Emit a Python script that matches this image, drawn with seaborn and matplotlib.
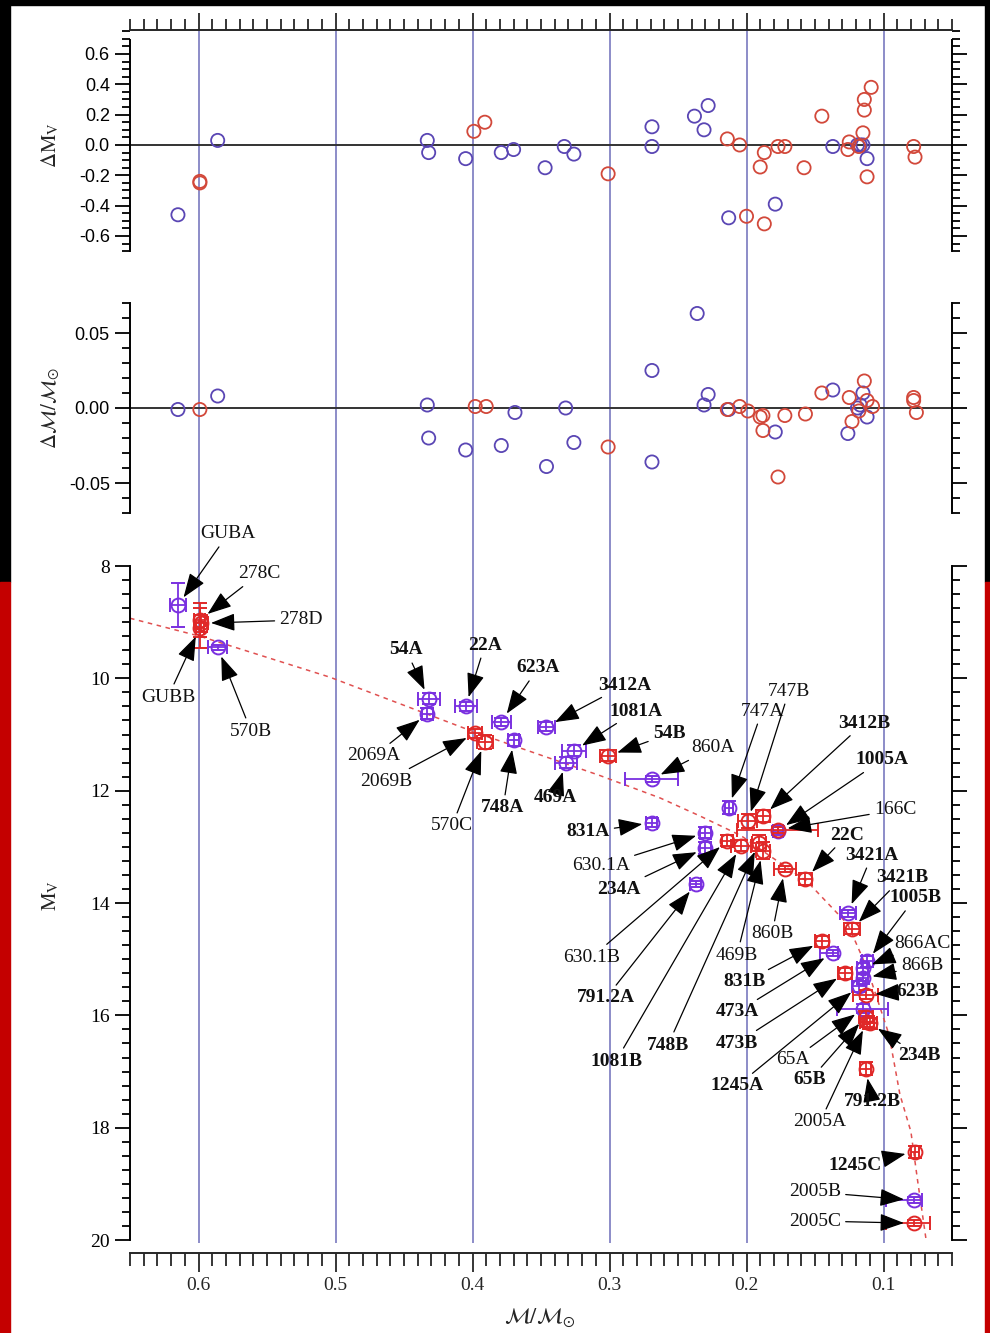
import numpy as np
import pandas as pd
import matplotlib
matplotlib.use("Agg")
import matplotlib.pyplot as plt
import seaborn as sns
from matplotlib.patches import Rectangle
from matplotlib.ticker import MultipleLocator

# ---------------- data ----------------
# top panel: Delta M_V residuals
dmv_blue_mass = [0.615, 0.586, 0.433, 0.432, 0.405, 0.379, 0.370, 0.347, 0.333, 0.326,
                 0.269, 0.269, 0.238, 0.228, 0.231, 0.213, 0.179, 0.137, 0.119, 0.117,
                 0.115, 0.112]
dmv_blue = [-0.46, 0.03, 0.03, -0.05, -0.09, -0.05, -0.03, -0.15, -0.01, -0.06,
            0.12, -0.01, 0.19, 0.26, 0.10, -0.48, -0.39, -0.01, 0.00, 0.00,
            0.00, -0.09]
dmv_red_mass = [0.599, 0.599, 0.399, 0.391, 0.301, 0.214, 0.205, 0.200, 0.190, 0.187,
                0.187, 0.177, 0.172, 0.158, 0.145, 0.125, 0.126, 0.118, 0.115, 0.114,
                0.114, 0.109, 0.112, 0.078, 0.077]
dmv_red = [-0.25, -0.24, 0.09, 0.15, -0.19, 0.04, 0.00, -0.47, -0.145, -0.05,
           -0.52, -0.01, -0.01, -0.15, 0.19, 0.02, -0.03, -0.01, 0.08, 0.23,
           0.30, 0.38, -0.21, -0.01, -0.08]

# middle panel: Delta mass residuals
dm_blue_mass = [0.615, 0.586, 0.433, 0.432, 0.405, 0.379, 0.369, 0.346, 0.332, 0.326,
                0.269, 0.269, 0.236, 0.228, 0.231, 0.213, 0.179, 0.137, 0.126, 0.119,
                0.117, 0.115, 0.112]
dm_blue = [-0.001, 0.008, 0.002, -0.020, -0.028, -0.025, -0.003, -0.039, 0.000, -0.023,
           0.025, -0.036, 0.063, 0.009, 0.002, -0.001, -0.016, 0.012, -0.017, 0.000,
           0.002, 0.010, -0.006]
dm_red_mass = [0.599, 0.398, 0.390, 0.301, 0.214, 0.205, 0.199, 0.190, 0.188, 0.188,
               0.177, 0.172, 0.157, 0.145, 0.125, 0.123, 0.118, 0.114, 0.112, 0.108,
               0.078, 0.078, 0.076]
dm_red = [-0.001, 0.001, 0.001, -0.026, -0.001, 0.001, -0.002, -0.006, -0.005, -0.015,
          -0.046, -0.005, -0.004, 0.010, 0.007, -0.009, -0.002, 0.018, 0.005, 0.001,
          0.007, 0.005, -0.003]

# bottom panel: mass - M_V relation
star_names = ['GUBA', '278C', '278D', 'GUBB', '570B', '54A', '2069A', '22A', '623A', '2069B',
              '570C', '748A', '3412A', '1081A', '469A', '54B', '860A', '831A', '747A', '747B',
              '3412B', '1005A', '166C', '630.1A', '234A', '630.1B', '791.2A', '1081B', '748B', '469B',
              '860B', '22C', '3421A', '3421B', '831B', '473A', '1005B', '866AC', '473B', '866B',
              '1245A', '623B', '65A', '65B', '2005A', '234B', '791.2B', '1245C', '2005B', '2005C']
star_mass = [0.615, 0.599, 0.598, 0.599, 0.586, 0.432, 0.433, 0.405, 0.379, 0.398,
             0.391, 0.370, 0.346, 0.326, 0.332, 0.301, 0.269, 0.269, 0.213, 0.199,
             0.188, 0.177, 0.177, 0.230, 0.230, 0.214, 0.237, 0.204, 0.191, 0.188,
             0.172, 0.157, 0.126, 0.123, 0.145, 0.137, 0.112, 0.115, 0.128, 0.115,
             0.118, 0.113, 0.115, 0.113, 0.112, 0.110, 0.113, 0.077, 0.078, 0.078]
star_mv = [8.70, 8.96, 9.02, 9.10, 9.45, 10.36, 10.63, 10.50, 10.77, 10.98,
           11.13, 11.10, 10.86, 11.29, 11.50, 11.38, 11.79, 12.57, 12.30, 12.54,
           12.45, 12.71, 12.70, 12.75, 13.02, 12.89, 13.66, 12.98, 12.93, 13.07,
           13.39, 13.57, 14.18, 14.46, 14.68, 14.89, 15.04, 15.16, 15.25, 15.34,
           15.48, 15.63, 15.88, 16.02, 16.11, 16.14, 16.95, 18.43, 19.29, 19.70]
star_group = ['A', 'B', 'B', 'B', 'A', 'A', 'A', 'A', 'A', 'B',
              'B', 'A', 'A', 'A', 'A', 'B', 'A', 'A', 'A', 'B',
              'B', 'A', 'B', 'A', 'A', 'B', 'A', 'B', 'B', 'B',
              'B', 'B', 'A', 'B', 'B', 'A', 'A', 'A', 'B', 'A',
              'A', 'B', 'A', 'B', 'B', 'B', 'B', 'B', 'A', 'B']
star_xerr_lo = [0.006, 0.004, 0.005, 0.003, 0.007, 0.008, 0.004, 0.008, 0.007, 0.005,
                0.006, 0.004, 0.006, 0.009, 0.008, 0.006, 0.019, 0.004, 0.003, 0.007,
                0.005, 0.004, 0.029, 0.004, 0.004, 0.004, 0.004, 0.007, 0.005, 0.005,
                0.008, 0.005, 0.006, 0.006, 0.005, 0.004, 0.004, 0.004, 0.005, 0.004,
                0.005, 0.009, 0.018, 0.005, 0.005, 0.005, 0.004, 0.003, 0.006, 0.012]
star_xerr_hi = [0.006, 0.004, 0.005, 0.003, 0.007, 0.008, 0.004, 0.008, 0.007, 0.005,
                0.006, 0.004, 0.006, 0.009, 0.008, 0.006, 0.020, 0.004, 0.003, 0.007,
                0.005, 0.004, 0.030, 0.004, 0.004, 0.004, 0.004, 0.007, 0.005, 0.005,
                0.008, 0.005, 0.006, 0.006, 0.005, 0.009, 0.004, 0.004, 0.005, 0.004,
                0.005, 0.009, 0.019, 0.005, 0.005, 0.005, 0.004, 0.003, 0.020, 0.020]
star_yerr = [0.39, 0.30, 0.15, 0.36, 0.05, 0.10, 0.10, 0.08, 0.07, 0.08,
             0.12, 0.10, 0.08, 0.10, 0.10, 0.10, 0.05, 0.08, 0.12, 0.12,
             0.10, 0.08, 0.05, 0.10, 0.10, 0.10, 0.06, 0.10, 0.15, 0.15,
             0.05, 0.10, 0.06, 0.10, 0.10, 0.05, 0.10, 0.10, 0.10, 0.10,
             0.10, 0.08, 0.08, 0.10, 0.10, 0.10, 0.12, 0.10, 0.05, 0.05]
bold_names = {'54A', '22A', '623A', '3412A', '1081A', '54B', '3412B', '1005A', '22C', '3421A',
              '3421B', '1005B', '623B', '234B', '791.2B', '1245C', '748A', '469A', '831A',
              '234A', '791.2A', '748B', '1081B', '831B', '473A', '473B', '1245A', '65B'}

curve_mass = [0.650, 0.599, 0.504, 0.396, 0.307, 0.263, 0.234, 0.204, 0.183, 0.156,
              0.126, 0.112, 0.096, 0.088, 0.080, 0.075, 0.069]
curve_mv = [8.93, 9.25, 9.98, 10.98, 11.73, 12.13, 12.45, 12.80, 13.16, 13.61,
            14.38, 15.16, 16.34, 17.41, 18.07, 18.96, 19.98]

grid_mass = [0.6, 0.5, 0.4, 0.3, 0.2, 0.1]
x_tick_labels = ['0.6', '0.5', '0.4', '0.3', '0.2', '0.1']

# ---------------- layout / style ----------------
# label text centres in image pixels (x from left, y from top)
label_px = [(228, 534), (259, 574), (301, 620), (168, 697), (251, 731), (406, 650), (374, 756),
            (485, 645), (538, 668), (386, 781), (452, 826), (503, 808), (625, 685), (636, 711),
            (555, 797), (669, 734), (713, 748), (588, 832), (762, 711), (789, 691), (864, 723),
            (882, 760), (895, 810), (601, 866), (619, 889), (592, 957), (606, 998), (616, 1061),
            (668, 1045), (737, 955), (772, 934), (847, 835), (872, 855), (902, 878), (745, 982),
            (737, 1012), (915, 898), (922, 943), (737, 1043), (922, 966), (737, 1086), (918, 991),
            (793, 1060), (810, 1080), (820, 1122), (919, 1056), (872, 1102), (855, 1165),
            (815, 1192), (815, 1221)]

W, H = 990, 1333
sns.set_theme(style="ticks")
plt.rcParams['font.family'] = ['Liberation Serif', 'DejaVu Serif']
plt.rcParams['mathtext.fontset'] = 'stix'
plt.rcParams['axes.linewidth'] = 1.4

BLUE_TOP, RED_TOP = '#5a46b4', '#d2483a'
BLUE, RED = '#7a30e0', '#e02828'
GRID = '#8484c4'

fig = plt.figure(figsize=(W / 100, H / 100), dpi=100)
fig.patch.set_facecolor('white')


def rect(x0, y0, x1, y1):
    return [x0 / W, 1 - y1 / H, (x1 - x0) / W, (y1 - y0) / H]


# frame of the screenshot
for (x0, y0, x1, y1, c) in [(0, 0, W, 5, 'black'), (0, 0, 10, 582, 'black'), (985, 0, W, 582, 'black'),
                            (0, 582, 10, H, '#c40000'), (985, 582, W, H, '#c40000')]:
    fig.patches.append(Rectangle((x0 / W, 1 - y1 / H), (x1 - x0) / W, (y1 - y0) / H,
                                 transform=fig.transFigure, color=c, zorder=-5))

ax_bg = fig.add_axes(rect(130, 30, 952, 1243), zorder=0)
ax_top = fig.add_axes(rect(130, 30, 952, 252), zorder=1)
ax_mid = fig.add_axes(rect(130, 303, 952, 513), zorder=1)
ax_bot = fig.add_axes(rect(130, 566, 952, 1253), zorder=1)

XLIM = (0.65, 0.05)
for ax in (ax_bg, ax_top, ax_mid, ax_bot):
    ax.set_xlim(*XLIM)
    ax.set_facecolor('none')

# vertical guide lines through all panels
ax_bg.set_ylim(0, 1)
ax_bg.axis('off')
for gm in grid_mass:
    ax_bg.axvline(gm, color=GRID, lw=1.3, zorder=0)

# ---- top panel
ax_top.set_ylim(-0.7055, 0.758)
ax_top.axhline(0, color='#333333', lw=1.4, zorder=1)
top_df = pd.DataFrame({'mass': dmv_blue_mass + dmv_red_mass,
                       'val': dmv_blue + dmv_red,
                       'grp': ['A'] * len(dmv_blue) + ['B'] * len(dmv_red)})
sns.scatterplot(data=top_df, x='mass', y='val', hue='grp', palette={'A': BLUE_TOP, 'B': RED_TOP},
                s=90, linewidth=1.3, legend=False, ax=ax_top, zorder=3)

mid_df = pd.DataFrame({'mass': dm_blue_mass + dm_red_mass,
                       'val': dm_blue + dm_red,
                       'grp': ['A'] * len(dm_blue) + ['B'] * len(dm_red)})
ax_mid.set_ylim(-0.07, 0.07)
ax_mid.axhline(0, color='#333333', lw=1.4, zorder=1)
sns.scatterplot(data=mid_df, x='mass', y='val', hue='grp', palette={'A': BLUE_TOP, 'B': RED_TOP},
                s=90, linewidth=1.3, legend=False, ax=ax_mid, zorder=3)

for ax in (ax_top, ax_mid):
    for coll in ax.collections:
        fc = coll.get_facecolors()
        coll.set_edgecolors(fc)
        coll.set_facecolor('none')

# ---- bottom panel
ax_bot.set_ylim(20.23, 8)
sns.lineplot(x=curve_mass, y=curve_mv, sort=False, color='#e05050', lw=1.1,
             linestyle=(0, (3, 3)), ax=ax_bot, zorder=2)

sm = np.array(star_mass)
sv = np.array(star_mv)
lo = np.array(star_xerr_lo)
hi = np.array(star_xerr_hi)
ye = np.array(star_yerr)
grp = np.array(star_group)
for g, col in (('A', BLUE), ('B', RED)):
    k = grp == g
    ax_bot.errorbar(sm[k], sv[k], xerr=[lo[k], hi[k]], yerr=ye[k], fmt='o', ms=10,
                    mfc='none', mec=col, mew=1.4, ecolor=col, elinewidth=1.3,
                    capsize=5, capthick=1.3, zorder=4)

arrow_style = dict(arrowstyle='-|>,head_length=1.5,head_width=0.55', color='black',
                   lw=0.9, shrinkA=1, shrinkB=7, mutation_scale=10)
for name, m, v, (px, py) in zip(star_names, star_mass, star_mv, label_px):
    ax_bot.annotate(name, xy=(m, v), xycoords='data', xytext=(px, H - py),
                    textcoords='figure pixels', ha='center', va='center', fontsize=14,
                    fontweight='bold' if name in bold_names else 'normal',
                    color='#111111', arrowprops=arrow_style, annotation_clip=False,
                    zorder=6)

# ---- axes / ticks styling
for ax in (ax_top, ax_mid, ax_bot):
    ax.spines['right'].set_visible(True)
    ax.spines['left'].set_color('black')
    ax.spines['right'].set_color('black')
    ax.tick_params(axis='y', which='both', left=True, right=True, labelright=False,
                   direction='out', width=1.3, colors='black')
    ax.tick_params(axis='y', which='major', length=11)
    ax.tick_params(axis='y', which='minor', length=6)

ax_top.spines['bottom'].set_visible(False)
ax_top.spines['top'].set_visible(True)
ax_top.spines['left'].set_bounds(-0.70, 0.69)
ax_top.spines['right'].set_bounds(-0.70, 0.69)
ax_top.yaxis.set_major_locator(MultipleLocator(0.2))
ax_top.yaxis.set_minor_locator(MultipleLocator(0.05))
ax_top.set_yticks([-0.6, -0.4, -0.2, 0.0, 0.2, 0.4, 0.6])
ax_top.set_yticklabels(['-0.6', '-0.4', '-0.2', '0.0', '0.2', '0.4', '0.6'])
ax_top.xaxis.set_major_locator(MultipleLocator(0.1))
ax_top.xaxis.set_minor_locator(MultipleLocator(0.01))
ax_top.tick_params(axis='x', which='both', top=True, bottom=False, labeltop=False,
                   labelbottom=False, direction='out', width=1.3)
ax_top.tick_params(axis='x', which='major', length=12)
ax_top.tick_params(axis='x', which='minor', length=8)

ax_mid.spines['bottom'].set_visible(False)
ax_mid.spines['top'].set_visible(False)
ax_mid.spines['left'].set_bounds(-0.07, 0.07)
ax_mid.spines['right'].set_bounds(-0.07, 0.07)
ax_mid.set_yticks([-0.05, 0.0, 0.05])
ax_mid.set_yticklabels(['-0.05', '0.00', '0.05'])
ax_mid.yaxis.set_minor_locator(MultipleLocator(0.01))
ax_mid.tick_params(axis='x', which='both', bottom=False, top=False, labelbottom=False)

for ax in (ax_top, ax_mid):
    for t in ax.get_yticklabels():
        t.set_family(['Liberation Sans', 'DejaVu Sans'])
        t.set_fontsize(13)

ax_bot.spines['top'].set_visible(False)
ax_bot.spines['left'].set_bounds(8, 20)
ax_bot.spines['right'].set_bounds(8, 20)
ax_bot.set_yticks([8, 10, 12, 14, 16, 18, 20])
ax_bot.set_yticklabels(['8', '10', '12', '14', '16', '18', '20'], fontsize=14)
ax_bot.yaxis.set_minor_locator(MultipleLocator(0.25))
ax_bot.set_xticks(grid_mass)
ax_bot.set_xticklabels(x_tick_labels, fontsize=14)
ax_bot.xaxis.set_minor_locator(MultipleLocator(0.01))
ax_bot.tick_params(axis='x', which='both', bottom=True, top=False, direction='out', width=1.3,
                   pad=3)
ax_bot.tick_params(axis='x', which='major', length=14)
ax_bot.tick_params(axis='x', which='minor', length=9)

ax_top.set_xlabel('')
ax_mid.set_xlabel('')
ax_top.set_ylabel(r'$\Delta\mathrm{M}_\mathrm{V}$', fontsize=15)
ax_mid.set_ylabel(r'$\Delta\mathcal{M}/\mathcal{M}_{\odot}$', fontsize=15)
ax_bot.set_ylabel(r'$\mathrm{M}_\mathrm{V}$', fontsize=15)
ax_bot.set_xlabel(r'$\mathcal{M}/\mathcal{M}_{\odot}$', fontsize=16)
ax_top.yaxis.set_label_coords(-0.083, 0.48)
ax_mid.yaxis.set_label_coords(-0.083, 0.5)
ax_bot.yaxis.set_label_coords(-0.083, 0.52)
ax_bot.xaxis.set_label_coords(0.499, -0.078)

fig.savefig('out.png', dpi=100, facecolor=fig.get_facecolor())
